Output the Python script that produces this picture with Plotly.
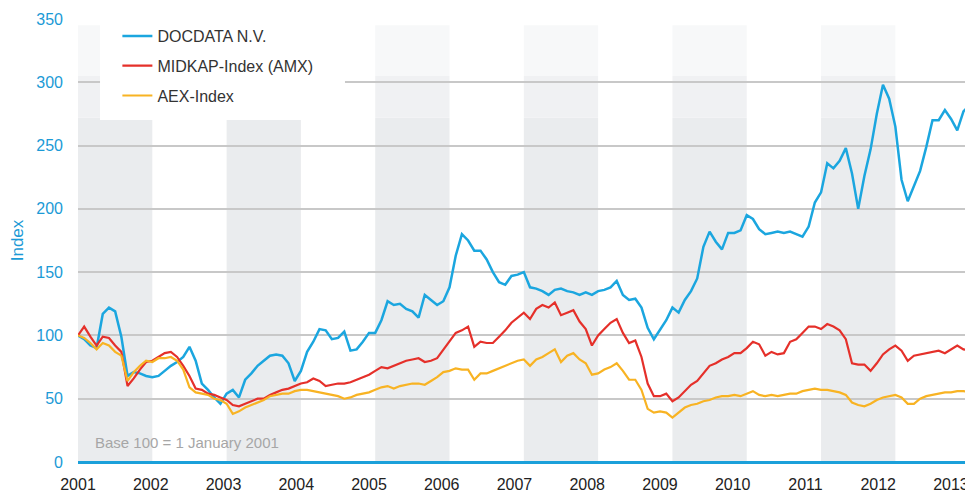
import plotly.graph_objects as go

# ---------------- data (monthly index values, base 100 = 1 Jan 2001) ----------------
start_year = 2001
docdata = [
    100, 97, 92, 90, 117, 122, 119, 99, 68, 71, 70, 68,          # 2001
    67, 68, 72, 76, 79, 83, 91, 80, 62, 57, 51, 46,              # 2002
    54, 57, 51, 65, 70, 76, 80, 84, 85, 84, 78, 64,              # 2003
    72, 87, 95, 105, 104, 97, 98, 103, 88, 89, 95, 102,          # 2004
    102, 112, 127, 124, 125, 121, 119, 114, 132, 128, 124, 127,  # 2005
    138, 163, 180, 175, 167, 167, 160, 150, 142, 140, 147, 148,  # 2006
    150, 138, 137, 135, 132, 136, 137, 135, 134, 132, 134, 132,  # 2007
    135, 136, 138, 143, 132, 128, 129, 122, 106, 97, 104, 112,   # 2008
    122, 118, 128, 135, 145, 170, 182, 174, 168, 181, 181, 183,  # 2009
    195, 192, 184, 180, 181, 182, 181, 182, 180, 178, 186, 205,  # 2010
    213, 236, 232, 238, 248, 228, 200, 226, 247, 275, 298, 287,  # 2011
    265, 223, 206, 218, 230, 249, 270, 270, 278, 271, 262, 277,  # 2012
    282,                                                         # 2013
]
midkap = [
    100, 107, 99, 92, 99, 98, 92, 87, 60, 66, 73, 79,
    80, 83, 86, 87, 83, 76, 68, 58, 57, 54, 53, 51,
    49, 45, 44, 46, 48, 50, 50, 53, 55, 57, 58, 60,
    62, 63, 66, 64, 60, 61, 62, 62, 63, 65, 67, 69,
    72, 75, 74, 76, 78, 80, 81, 82, 79, 80, 82, 89,
    96, 102, 104, 107, 91, 95, 94, 94, 99, 104, 110, 114,
    118, 113, 121, 124, 122, 126, 116, 118, 120, 111, 105, 92,
    100, 105, 110, 113, 102, 94, 96, 83, 62, 52, 52, 54,
    48, 51, 56, 61, 64, 70, 76, 78, 81, 83, 86, 86,
    90, 95, 93, 84, 87, 85, 86, 95, 97, 102, 107, 107,
    105, 109, 107, 104, 97, 78, 77, 77, 72, 78, 85, 89,
    92, 88, 80, 84, 85, 86, 87, 88, 86, 89, 92, 89,
    88,
]
aex = [
    100, 98, 94, 89, 94, 92, 87, 84, 64, 71, 76, 80,
    79, 82, 82, 83, 80, 73, 59, 55, 54, 53, 50, 49,
    46, 38, 40, 43, 45, 47, 49, 52, 53, 54, 54, 56,
    57, 57, 56, 55, 54, 53, 52, 50, 51, 53, 54, 55,
    57, 59, 60, 58, 60, 61, 62, 62, 61, 64, 67, 71,
    72, 74, 73, 73, 65, 70, 70, 72, 74, 76, 78, 80,
    81, 76, 81, 83, 86, 89, 79, 84, 86, 81, 78, 69,
    70, 73, 75, 78, 72, 65, 65, 57, 42, 39, 40, 39,
    35, 39, 43, 45, 46, 48, 49, 51, 52, 52, 53, 52,
    54, 56, 53, 52, 53, 52, 53, 54, 54, 56, 57, 58,
    57, 57, 56, 55, 53, 47, 45, 44, 46, 49, 51, 52,
    53, 51, 46, 46, 50, 52, 53, 54, 55, 55, 56, 56,
    55,
]
series_names = ["DOCDATA N.V.", "MIDKAP-Index (AMX)", "AEX-Index"]
series_colors = ["#1ba6df", "#e5302a", "#f8b323"]
series_widths = [2.5, 2.2, 2.2]
year_labels = [str(y) for y in range(2001, 2014)]
band_years = [2001, 2003, 2005, 2007, 2009, 2011]
y_ticks = [0, 50, 100, 150, 200, 250, 300, 350]
note_text = "Base 100 = 1 January 2001"

months = [start_year + i / 12 for i in range(len(docdata))]
tick_step = 0.979

fig = go.Figure()
for name, vals, col, w in zip(series_names, [docdata, midkap, aex], series_colors, series_widths):
    fig.add_trace(go.Scatter(
        x=months, y=vals, mode="lines", name=name,
        line=dict(color=col, width=w), legendgroup=name,
    ))

shapes = []
for y0 in band_years:
    shapes.append(dict(type="rect", xref="x", yref="y", x0=y0, x1=y0 + 1, y0=0, y1=272,
                       fillcolor="#eaecee", line=dict(width=0), layer="below"))
    shapes.append(dict(type="rect", xref="x", yref="y", x0=y0, x1=y0 + 1, y0=272, y1=305,
                       fillcolor="#f0f1f3", line=dict(width=0), layer="below"))
    shapes.append(dict(type="rect", xref="x", yref="y", x0=y0, x1=y0 + 1, y0=305, y1=345,
                       fillcolor="#f7f8f9", line=dict(width=0), layer="below"))
# white legend panel
shapes.append(dict(type="rect", xref="paper", yref="paper", x0=0.0246, x1=0.2983, y0=0.772, y1=1.03,
                   fillcolor="white", line=dict(width=0), layer="above"))

# the page body has an 8px margin, so the figure is sized to fit the window
fig.update_layout(
    width=965, height=484,
    margin=dict(l=70, r=0, t=11, b=30, autoexpand=False),
    paper_bgcolor="white", plot_bgcolor="white",
    font=dict(family="Liberation Sans, Arial, sans-serif", size=16, color="#333333"),
    shapes=shapes,
    showlegend=True,
    legend=dict(
        x=0.044, y=1.0, xanchor="left", yanchor="top",
        bgcolor="rgba(0,0,0,0)", borderwidth=0,
        font=dict(size=16, color="#333333"),
        tracegroupgap=6,
    ),
    annotations=[dict(
        text=note_text, xref="paper", yref="paper", x=0.017, y=0.045,
        xanchor="left", yanchor="middle", showarrow=False,
        font=dict(size=15, color="#a6a6a6"),
    )],
)
fig.update_xaxes(
    automargin=False,
    range=[2001, 2013.045], showgrid=False, zeroline=False, showline=False,
    tickmode="array",
    tickvals=[2001 + k * tick_step for k in range(len(year_labels))],
    ticktext=year_labels,
    ticks="", ticklabelstandoff=11,
    tickfont=dict(size=16, color="#222222"),
)
fig.update_yaxes(
    automargin=False,
    range=[0, 350], tickmode="array", tickvals=y_ticks,
    showgrid=True, gridcolor="#c8c8c8", gridwidth=1.5,
    zeroline=True, zerolinecolor="#1ba0da", zerolinewidth=2.5,
    showline=False, ticks="", ticklabelstandoff=14,
    tickfont=dict(size=16, color="#1b9ad6"),
    title=dict(text="Index", font=dict(size=17, color="#1b9ad6"), standoff=17),
)

fig.write_html("out.html")
